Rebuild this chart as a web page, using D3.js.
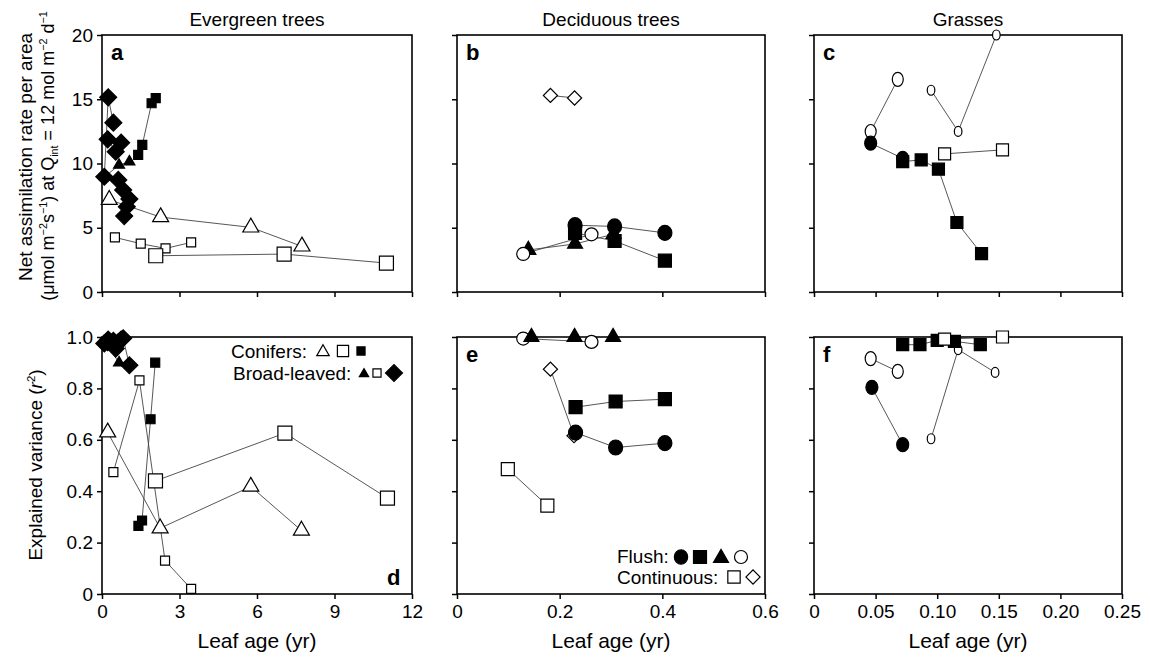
<!DOCTYPE html>
<html>
<head>
<meta charset="utf-8">
<style>
  body { margin: 0; background: #fff; }
  svg text { font-family: "Liberation Sans", Arial, sans-serif; fill: #000; }
  .box { fill: none; stroke: #000; stroke-width: 1.6px; }
  .tick line { stroke: #000; stroke-width: 1.5px; }
  .conn { fill: none; stroke: #444; stroke-width: 0.9px; }
</style>
</head>
<body>
<svg width="1150" height="664"></svg>
<script src="https://cdn.jsdelivr.net/npm/d3@7"></script>
<script>
// ---- data (leaf age, value) ----
// a: evergreen, net assimilation
var conTriOpenA = [[0.28,7.18],[2.27,5.83],[5.76,5.03],[7.74,3.55]];
var conSqOpenA  = [[2.08,2.82],[7.05,2.95],[11.01,2.25]];
var conSqFillA  = [[1.40,10.67],[1.56,11.45],[1.92,14.69],[2.08,15.08]];
var blTriFillA  = [[0.12,9.0],[0.66,9.88],[1.06,10.14]];
var blSqOpenA   = [[0.5,4.25],[1.5,3.76],[2.46,3.39],[3.45,3.86]];
var blDiaA1 = [[0.09,8.97],[0.24,15.15],[0.44,13.18]];
var blDiaA2 = [[0.22,11.88],[0.53,10.92],[0.74,11.62]];
var blDiaA3 = [[0.63,8.72],[0.82,7.94],[1.06,7.24]];
var blDiaA4 = [[0.86,5.91],[0.96,6.64]];
// d: evergreen, r2
var conTriOpenD = [[0.22,0.629],[2.25,0.256],[5.76,0.418],[7.72,0.247]];
var conSqOpenD  = [[2.07,0.44],[7.08,0.626],[11.05,0.373]];
var conSqFillD  = [[1.41,0.265],[1.55,0.286],[1.88,0.68],[2.06,0.90]];
var blSqOpenD   = [[0.44,0.474],[1.45,0.831],[2.44,0.13],[3.45,0.02]];
var blTriFillD  = [[0.12,0.98],[0.66,0.90]];
var blDiaD1 = [[0.09,0.975],[0.24,0.99],[0.44,0.985]];
var blDiaD2 = [[0.22,0.98],[0.53,0.955],[0.74,0.99]];
var blDiaD3 = [[0.63,0.98],[0.82,0.995],[1.06,0.89]];
// b: deciduous, net assimilation
var floCircB     = [[0.23,5.2],[0.307,5.1],[0.405,4.6]];
var floSqB       = [[0.23,4.6],[0.307,3.97],[0.405,2.44]];
var floTriB      = [[0.139,3.27],[0.23,3.74],[0.305,4.5]];
var floCircOpenB = [[0.129,2.96],[0.262,4.49]];
var conDiaOpenB  = [[0.182,15.3],[0.229,15.1]];
// e: deciduous, r2
var floCircE     = [[0.231,0.628],[0.309,0.57],[0.405,0.587]];
var floSqE       = [[0.231,0.727],[0.309,0.749],[0.405,0.758]];
var floTriE      = [[0.145,1.0],[0.229,1.0],[0.304,1.0]];
var floCircOpenE = [[0.129,0.994],[0.262,0.981]];
var conSqOpenE   = [[0.099,0.486],[0.176,0.344]];
var conDiaOpenE  = [[0.182,0.875],[0.228,0.616]];
// c: grasses, net assimilation
var grCircOpenC  = [[0.046,12.49],[0.068,16.55]];
var grCircOpenC2 = [[0.095,15.7],[0.117,12.5],[0.148,20.0]];
var grCircFillC  = [[0.046,11.58],[0.072,10.4]];
var grSqFillC    = [[0.072,10.15],[0.087,10.28],[0.101,9.56],[0.116,5.41],[0.136,2.98]];
var grSqOpenC    = [[0.106,10.75],[0.153,11.06]];
// f: grasses, r2
var grCircOpenF  = [[0.046,0.916],[0.068,0.866]];
var grCircOpenF2 = [[0.095,0.604],[0.117,0.951],[0.147,0.862]];
var grCircFillF  = [[0.047,0.804],[0.072,0.581]];
var grSqFillF    = [[0.072,0.970],[0.086,0.970],[0.10,0.987],[0.114,0.983],[0.135,0.97]];
var grSqOpenF    = [[0.106,0.992],[0.153,1.0]];

// ---- axes ----
var columnTitles = ["Evergreen trees", "Deciduous trees", "Grasses"];
var xTicksEvg = [0, 3, 6, 9, 12],          xLabEvg = ["0", "3", "6", "9", "12"];
var xTicksDec = [0, 0.2, 0.4, 0.6],        xLabDec = ["0", "0.2", "0.4", "0.6"];
var xTicksGr  = [0, 0.05, 0.1, 0.15, 0.2, 0.25], xLabGr = ["0", "0.05", "0.10", "0.15", "0.20", "0.25"];
var yTicksA = [0, 5, 10, 15, 20],          yLabA = ["0", "5", "10", "15", "20"];
var yTicksR = [0, 0.2, 0.4, 0.6, 0.8, 1.0], yLabR = ["0", "0.2", "0.4", "0.6", "0.8", "1.0"];

// ---- marker styles ----
var markStyle = {
  triO:   {shape: "tri", s: 16, fill: "#fff"},
  sqO:    {shape: "sq",  s: 14, fill: "#fff"},
  sqF:    {shape: "sq",  s: 9,  fill: "#000"},
  triF:   {shape: "tri", s: 11, fill: "#000"},
  sqOs:   {shape: "sq",  s: 9,  fill: "#fff"},
  diaF:   {shape: "dia", s: 12, fill: "#000"},
  circF:  {shape: "ell", rx: 7, ry: 7.5, fill: "#000"},
  sqFL:   {shape: "sq",  s: 13, fill: "#000"},
  triFL:  {shape: "tri", s: 15, fill: "#000"},
  circO:  {shape: "ell", rx: 6.5, ry: 6.5, fill: "#fff"},
  diaO:   {shape: "dia", s: 10, fill: "#fff"},
  sqOL:   {shape: "sq",  s: 13, fill: "#fff"},
  ellO:   {shape: "ell", rx: 5.5, ry: 7, fill: "#fff"},
  ellOs:  {shape: "ell", rx: 3.8, ry: 5, fill: "#fff"},
  ellF:   {shape: "ell", rx: 6, ry: 7, fill: "#000"},
  sqFg:   {shape: "sq",  s: 12, fill: "#000"},
  sqOg:   {shape: "sq",  s: 12, fill: "#fff"}
};

function drawMark(g, kind, cx, cy, scale) {
  var st = markStyle[kind], k = scale || 1, el;
  if (st.shape === "ell") {
    el = g.append("ellipse").attr("cx", cx).attr("cy", cy)
      .attr("rx", st.rx * k).attr("ry", st.ry * k);
  } else {
    var s = st.s * k, sym, rot = "";
    if (st.shape === "tri") sym = d3.symbol(d3.symbolTriangle, s * s * Math.sqrt(3) / 4);
    else sym = d3.symbol(d3.symbolSquare, s * s);
    if (st.shape === "dia") rot = " rotate(45)";
    el = g.append("path").attr("d", sym())
      .attr("transform", "translate(" + cx + "," + cy + ")" + rot);
  }
  el.attr("fill", st.fill).attr("stroke", "#000").attr("stroke-width", 1.2);
}

var svg = d3.select("svg");
var cols = [[102, 412], [457, 765], [814, 1122]];
var rows = [[35, 292], [337, 594]];

var panels = [
  {c: 0, r: 0, xd: [0, 12], xt: xTicksEvg, yd: [0, 20], yt: yTicksA, ylab: yLabA, letter: "a",
   series: [[blTriFillA, "triF"], [blSqOpenA, "sqOs"], [conTriOpenA, "triO"], [conSqOpenA, "sqO"],
            [conSqFillA, "sqF"], [blDiaA1, "diaF"], [blDiaA2, "diaF"], [blDiaA3, "diaF"], [blDiaA4, "diaF"]]},
  {c: 1, r: 0, xd: [0, 0.6], xt: xTicksDec, yd: [0, 20], yt: yTicksA, letter: "b",
   series: [[floTriB, "triFL"], [floCircOpenB, "circO"], [floSqB, "sqFL"], [floCircB, "circF"], [conDiaOpenB, "diaO"]]},
  {c: 2, r: 0, xd: [0, 0.25], xt: xTicksGr, yd: [0, 20], yt: yTicksA, letter: "c",
   series: [[grCircOpenC, "ellO"], [grCircOpenC2, "ellOs"], [grCircFillC, "ellF"], [grSqFillC, "sqFg"], [grSqOpenC, "sqOg"]]},
  {c: 0, r: 1, xd: [0, 12], xt: xTicksEvg, xlab: xLabEvg, yd: [0, 1], yt: yTicksR, ylab: yLabR, letter: "d",
   series: [[blSqOpenD, "sqOs"], [conTriOpenD, "triO"], [conSqOpenD, "sqO"], [conSqFillD, "sqF"],
            [blTriFillD, "triF"], [blDiaD1, "diaF"], [blDiaD2, "diaF"], [blDiaD3, "diaF"]]},
  {c: 1, r: 1, xd: [0, 0.6], xt: xTicksDec, xlab: xLabDec, yd: [0, 1], yt: yTicksR, letter: "e",
   series: [[conSqOpenE, "sqOL"], [conDiaOpenE, "diaO"], [floCircE, "circF"], [floSqE, "sqFL"],
            [floCircOpenE, "circO"], [floTriE, "triFL"]]},
  {c: 2, r: 1, xd: [0, 0.25], xt: xTicksGr, xlab: xLabGr, yd: [0, 1], yt: yTicksR, letter: "f",
   series: [[grCircOpenF, "ellO"], [grCircOpenF2, "ellOs"], [grCircFillF, "ellF"], [grSqFillF, "sqFg"], [grSqOpenF, "sqOg"]]}
];

panels.forEach(function(p) {
  var x0 = cols[p.c][0], x1 = cols[p.c][1], y0 = rows[p.r][0], y1 = rows[p.r][1];
  var x = d3.scaleLinear().domain(p.xd).range([x0, x1]);
  var y = d3.scaleLinear().domain(p.yd).range([y1, y0]);
  var g = svg.append("g");

  var xAxis = d3.axisBottom(x).tickValues(p.xt).tickSize(5).tickPadding(6)
    .tickFormat(function(d, i) { return p.xlab ? p.xlab[i] : ""; });
  var gx = g.append("g").attr("transform", "translate(0," + y1 + ")").call(xAxis);
  gx.select(".domain").remove();
  gx.selectAll("text").style("font-size", "19px").attr("fill", "#000");

  var yAxis = d3.axisLeft(y).tickValues(p.yt).tickSize(5).tickPadding(4)
    .tickFormat(function(d, i) { return p.ylab ? p.ylab[i] : ""; });
  var gy = g.append("g").attr("transform", "translate(" + x0 + ",0)").call(yAxis);
  gy.select(".domain").remove();
  gy.selectAll("text").style("font-size", "19px").attr("fill", "#000");

  g.append("rect").attr("class", "box").attr("x", x0).attr("y", y0)
    .attr("width", x1 - x0).attr("height", y1 - y0);

  var line = d3.line().x(function(d) { return x(d[0]); }).y(function(d) { return y(d[1]); });
  p.series.forEach(function(s) {
    g.append("path").datum(s[0]).attr("class", "conn").attr("d", line);
  });
  p.series.forEach(function(s) {
    s[0].forEach(function(d) { drawMark(g, s[1], x(d[0]), y(d[1])); });
  });

  var lx = p.letter === "d" ? x1 - 25 : x0 + 9;
  var ly = p.letter === "d" ? y1 - 9 : y0 + 25;
  g.append("text").attr("x", lx).attr("y", ly).style("font-size", "22px")
    .style("font-weight", "bold").text(p.letter);

  if (p.r === 0) {
    g.append("text").attr("x", (x0 + x1) / 2).attr("y", 26).attr("text-anchor", "middle")
      .style("font-size", "19px").text(columnTitles[p.c]);
  } else {
    g.append("text").attr("x", (x0 + x1) / 2).attr("y", 648)
      .attr("text-anchor", "middle").style("font-size", "21px").text("Leaf age (yr)");
  }
});

// rich text helper for super/subscripts
function richText(sel, parts, size) {
  parts.forEach(function(pt) {
    var t = sel.append("tspan").text(pt.t);
    if (pt.sup) t.attr("dy", -7).style("font-size", (size * 0.6) + "px");
    else if (pt.sub) t.attr("dy", 4).style("font-size", (size * 0.6) + "px");
    else if (pt.back) t.attr("dy", pt.back);
    if (pt.it) t.style("font-style", "italic");
  });
}

var yt1 = svg.append("text").attr("transform", "translate(32,157) rotate(-90)")
  .attr("text-anchor", "middle").style("font-size", "19px");
richText(yt1, [{t: "Net assimilation rate per area"}], 19);

var yt2 = svg.append("text").attr("transform", "translate(54,156) rotate(-90)")
  .attr("text-anchor", "middle").style("font-size", "18px");
richText(yt2, [
  {t: "(\u03bcmol m"}, {t: "\u22122", sup: true}, {t: "s", back: 7}, {t: "\u22121", sup: true},
  {t: ") at Q", back: 7}, {t: "int", sub: true}, {t: " = 12 mol m", back: -4},
  {t: "\u22122", sup: true}, {t: " d", back: 7}, {t: "\u22121", sup: true}
], 18);

var yt3 = svg.append("text").attr("transform", "translate(42,465) rotate(-90)")
  .attr("text-anchor", "middle").style("font-size", "19px");
richText(yt3, [{t: "Explained variance ("}, {t: "r", it: true}, {t: "2", sup: true}, {t: ")", back: 7}], 19);

// legends
var legD = svg.append("g");
legD.append("text").attr("x", 231).attr("y", 358).style("font-size", "19px").text("Conifers:");
legD.append("text").attr("x", 233).attr("y", 380).style("font-size", "19px").text("Broad-leaved:");
drawMark(legD, "triO", 323, 352, 0.78);
drawMark(legD, "sqO", 343, 351, 0.8);
drawMark(legD, "sqF", 361, 351, 0.9);
drawMark(legD, "triF", 364, 374, 0.85);
drawMark(legD, "sqOs", 377, 373, 0.9);
drawMark(legD, "diaF", 394, 373, 1.0);

var legE = svg.append("g");
legE.append("text").attr("x", 617).attr("y", 563).style("font-size", "19px").text("Flush:");
legE.append("text").attr("x", 617).attr("y", 584).style("font-size", "19px").text("Continuous:");
drawMark(legE, "circF", 681, 557, 0.95);
drawMark(legE, "sqFL", 700, 557, 1.0);
drawMark(legE, "triFL", 721, 558, 1.0);
drawMark(legE, "circO", 741, 557, 1.0);
drawMark(legE, "sqOL", 734, 577, 0.95);
drawMark(legE, "diaO", 753, 577, 1.0);
</script>
</body>
</html>
